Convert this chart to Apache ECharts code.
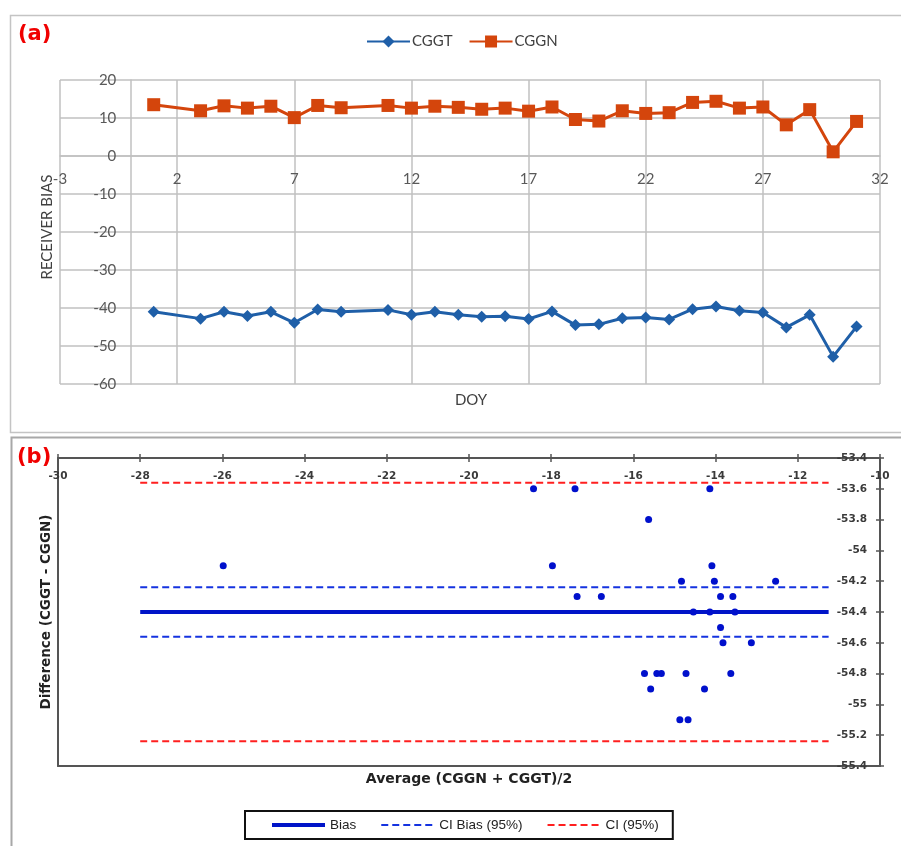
<!DOCTYPE html>
<html>
<head>
<meta charset="utf-8">
<script src="https://cdn.jsdelivr.net/npm/echarts@6/dist/echarts.min.js"></script>
<style>
  html, body { margin: 0; padding: 0; background: #ffffff; }
  #chart { width: 901px; height: 846px; }
</style>
</head>
<body>
<div id="chart"></div>
<script>
// ---- Panel (a): receiver bias per day of year ----
const doy = [1, 3, 4, 5, 6, 7, 8, 9, 11, 12, 13, 14, 15, 16, 17, 18, 19, 20, 21, 22, 23, 24, 25, 26, 27, 28, 29, 30, 31];
const cggt = [-41.0, -42.8, -41.0, -42.1, -41.0, -43.9, -40.4, -41.0, -40.5, -41.8, -41.0, -41.8, -42.3, -42.2, -42.9,
              -40.9, -44.5, -44.3, -42.7, -42.5, -43.0, -40.3, -39.6, -40.7, -41.2, -45.1, -41.8, -52.8, -44.9];
const cggn = [13.5, 11.9, 13.2, 12.6, 13.1, 10.1, 13.3, 12.7, 13.3, 12.6, 13.1, 12.8, 12.3, 12.6, 11.8,
              12.9, 9.6, 9.2, 11.9, 11.2, 11.4, 14.1, 14.4, 12.6, 12.9, 8.2, 12.2, 1.1, 9.1];

// ---- Panel (b): Bland-Altman agreement ----
const baAverage = [-25.98, -18.43, -17.42, -15.63, -14.14, -17.97, -14.09, -14.83, -14.03, -12.54,
                   -17.37, -16.78, -13.88, -13.58, -14.54, -14.14, -13.53, -13.88, -13.82, -13.13,
                   -15.73, -15.43, -15.32, -14.72, -13.63, -15.58, -14.27, -14.87, -14.67];
const baDifference = [-54.1, -53.6, -53.6, -53.8, -53.6, -54.1, -54.1, -54.2, -54.2, -54.2,
                      -54.3, -54.3, -54.3, -54.3, -54.4, -54.4, -54.4, -54.5, -54.6, -54.6,
                      -54.8, -54.8, -54.8, -54.8, -54.8, -54.9, -54.9, -55.1, -55.1];
const bias = -54.40;
const ciBias = [-54.24, -54.56];
const ciLimits = [-53.56, -55.24];
const refLineSpan = [-28, -11.25];

// panel (a) axis ranges
const doyRange = [-3, 32];
const biasRange = [-60, 20];

const pair = (xs, ys) => xs.map((x, i) => [x, ys[i]]);
const hLine = v => refLineSpan.map(x => [x, v]);

// panel (a) plot box; its axes cross at zero, so they are shifted in from the edges
const gridA = { left: 60, right: 21, top: 80, height: 304 };
const plotWidthA = 901 - gridA.left - gridA.right;
const xZeroShift = plotWidthA * (0 - doyRange[0]) / (doyRange[1] - doyRange[0]);
const yZeroShift = gridA.height * (0 - biasRange[0]) / (biasRange[1] - biasRange[0]);

const gridGray = '#c0c0c0';
const axisDark = '#555555';
const latoLabel = { fontFamily: 'Lato', fontSize: 15, color: '#595959' };
const boldTick = { fontFamily: 'DejaVu Sans', fontWeight: 'bold', fontSize: 10.5, color: '#3a3a3a' };
const lineOnlyIcon = { opacity: 0 };

const chart = echarts.init(document.getElementById('chart'), null, { renderer: 'canvas' });

chart.setOption({
  animation: false,
  backgroundColor: '#ffffff',
  title: [
    { text: '(a)', left: 18, top: 24, padding: 0,
      textStyle: { fontFamily: 'DejaVu Sans', fontWeight: 'bold', fontSize: 21, color: '#f00000' } },
    { text: '(b)', left: 17, top: 447, padding: 0,
      textStyle: { fontFamily: 'DejaVu Sans', fontWeight: 'bold', fontSize: 21, color: '#f00000' } }
  ],
  legend: [
    {
      data: ['CGGT', 'CGGN'],
      left: 366, top: 34, padding: 0,
      itemWidth: 43, itemHeight: 15, itemGap: 16,
      textStyle: { fontFamily: 'Lato', fontSize: 15, color: '#404040', padding: [0, 0, 0, -3] }
    },
    {
      data: [
        { name: 'Bias', lineStyle: { width: 4 }, itemStyle: lineOnlyIcon },
        { name: 'CI Bias (95%)', lineStyle: { width: 2 }, itemStyle: lineOnlyIcon },
        { name: 'CI (95%)', lineStyle: { width: 2 }, itemStyle: lineOnlyIcon }
      ],
      left: 245, top: 811,
      padding: [7, 14, 7, 25],
      borderColor: '#111111', borderWidth: 2,
      itemWidth: 53, itemHeight: 14, itemGap: 24,
      textStyle: { fontFamily: 'Liberation Sans', fontSize: 13.5, color: '#222222' }
    }
  ],
  grid: [
    gridA,
    { left: 58, right: 21, top: 458, height: 308 }
  ],
  xAxis: [
    { // DOY axis, drawn along the zero line of receiver bias
      gridIndex: 0, type: 'value', min: doyRange[0], max: doyRange[1], interval: 5,
      offset: -yZeroShift,
      axisLine: { show: true, onZero: false, lineStyle: { color: gridGray, width: 1.5 } },
      axisTick: { show: false },
      axisLabel: { ...latoLabel, margin: 16, showMinLabel: true, showMaxLabel: true },
      splitLine: { show: true, lineStyle: { color: gridGray, width: 1.5 } }
    },
    { // average axis with labels, along the top
      gridIndex: 1, type: 'value', position: 'top', min: -30, max: -10, interval: 2,
      axisLine: { show: true, onZero: false, lineStyle: { color: axisDark, width: 2 } },
      axisTick: { show: true, inside: true, length: 4, lineStyle: { color: axisDark, width: 1.5 } },
      axisLabel: { ...boldTick, inside: true, margin: 13, showMinLabel: true, showMaxLabel: true },
      splitLine: { show: false }
    },
    { // outward half of the crossing ticks on the top axis
      gridIndex: 1, type: 'value', position: 'top', min: -30, max: -10, interval: 2,
      axisLine: { show: false, onZero: false },
      axisTick: { show: true, length: 4, lineStyle: { color: axisDark, width: 1.5 } },
      axisLabel: { show: false }, splitLine: { show: false }
    },
    { // bottom frame edge
      gridIndex: 1, type: 'value', position: 'bottom', min: -30, max: -10,
      axisLine: { show: true, onZero: false, lineStyle: { color: axisDark, width: 2 } },
      axisTick: { show: false }, axisLabel: { show: false }, splitLine: { show: false }
    }
  ],
  yAxis: [
    { // receiver bias axis, drawn along DOY zero
      gridIndex: 0, type: 'value', min: biasRange[0], max: biasRange[1], interval: 10,
      offset: -xZeroShift,
      axisLine: { show: true, onZero: false, lineStyle: { color: gridGray, width: 1.5 } },
      axisTick: { show: false },
      axisLabel: { ...latoLabel, margin: 14, showMinLabel: true, showMaxLabel: true },
      splitLine: { show: true, lineStyle: { color: gridGray, width: 1.5 } }
    },
    { // difference axis with labels, on the right
      gridIndex: 1, type: 'value', position: 'right', min: -55.4, max: -53.4, interval: 0.2,
      axisLine: { show: true, onZero: false, lineStyle: { color: axisDark, width: 2 } },
      axisTick: { show: true, inside: true, length: 4, lineStyle: { color: axisDark, width: 1.5 } },
      axisLabel: { ...boldTick, inside: true, margin: 13, showMinLabel: true, showMaxLabel: true },
      splitLine: { show: false }
    },
    { // outward half of the crossing ticks on the right axis
      gridIndex: 1, type: 'value', position: 'right', min: -55.4, max: -53.4, interval: 0.2,
      axisLine: { show: false, onZero: false },
      axisTick: { show: true, length: 4, lineStyle: { color: axisDark, width: 1.5 } },
      axisLabel: { show: false }, splitLine: { show: false }
    },
    { // left frame edge
      gridIndex: 1, type: 'value', position: 'left', min: -55.4, max: -53.4,
      axisLine: { show: true, onZero: false, lineStyle: { color: axisDark, width: 2 } },
      axisTick: { show: false }, axisLabel: { show: false }, splitLine: { show: false }
    }
  ],
  graphic: [
    { type: 'rect', silent: true, z: -10,
      shape: { x: 10.5, y: 15.5, width: 892, height: 417 },
      style: { fill: null, stroke: '#c4c4c4', lineWidth: 1.5 } },
    { type: 'rect', silent: true, z: -10,
      shape: { x: 11.5, y: 437.5, width: 900, height: 420 },
      style: { fill: null, stroke: '#a8a8a8', lineWidth: 2 } },
    { type: 'text', silent: true, x: 47, y: 227, rotation: Math.PI / 2,
      style: { text: 'RECEIVER BIAS', align: 'center', verticalAlign: 'middle',
               font: '15px Lato', fill: '#404040' } },
    { type: 'text', silent: true, x: 471, y: 400,
      style: { text: 'DOY', align: 'center', verticalAlign: 'middle',
               font: '15px Lato', fill: '#404040' } },
    { type: 'text', silent: true, x: 46, y: 612, rotation: Math.PI / 2,
      style: { text: 'Difference (CGGT - CGGN)', align: 'center', verticalAlign: 'middle',
               font: 'bold 13.5px "DejaVu Sans"', fill: '#222222' } },
    { type: 'text', silent: true, x: 469, y: 779,
      style: { text: 'Average (CGGN + CGGT)/2', align: 'center', verticalAlign: 'middle',
               font: 'bold 14px "DejaVu Sans"', fill: '#222222' } }
  ],
  series: [
    {
      name: 'CGGT', type: 'line', xAxisIndex: 0, yAxisIndex: 0,
      data: pair(doy, cggt),
      symbol: 'diamond', symbolSize: 12,
      itemStyle: { color: '#1f5fa8' },
      lineStyle: { color: '#1f5fa8', width: 3 },
      z: 3
    },
    {
      name: 'CGGN', type: 'line', xAxisIndex: 0, yAxisIndex: 0,
      data: pair(doy, cggn),
      symbol: 'rect', symbolSize: 13,
      itemStyle: { color: '#d4450c' },
      lineStyle: { color: '#d4450c', width: 3 },
      z: 3
    },
    {
      name: 'CI (95%)', type: 'line', xAxisIndex: 1, yAxisIndex: 1,
      data: hLine(ciLimits[0]), symbol: 'none',
      itemStyle: { color: '#ff1f1f' },
      lineStyle: { color: '#ff1f1f', width: 2, type: [7, 4] }, z: 2
    },
    {
      name: 'CI (95%)', type: 'line', xAxisIndex: 1, yAxisIndex: 1,
      data: hLine(ciLimits[1]), symbol: 'none',
      itemStyle: { color: '#ff1f1f' },
      lineStyle: { color: '#ff1f1f', width: 2, type: [7, 4] }, z: 2
    },
    {
      name: 'CI Bias (95%)', type: 'line', xAxisIndex: 1, yAxisIndex: 1,
      data: hLine(ciBias[0]), symbol: 'none',
      itemStyle: { color: '#1533e0' },
      lineStyle: { color: '#1533e0', width: 2, type: [7, 4] }, z: 2
    },
    {
      name: 'CI Bias (95%)', type: 'line', xAxisIndex: 1, yAxisIndex: 1,
      data: hLine(ciBias[1]), symbol: 'none',
      itemStyle: { color: '#1533e0' },
      lineStyle: { color: '#1533e0', width: 2, type: [7, 4] }, z: 2
    },
    {
      name: 'Bias', type: 'line', xAxisIndex: 1, yAxisIndex: 1,
      data: hLine(bias), symbol: 'none',
      itemStyle: { color: '#0014c8' },
      lineStyle: { color: '#0014c8', width: 4 }, z: 2
    },
    {
      name: 'Difference', type: 'scatter', xAxisIndex: 1, yAxisIndex: 1,
      data: pair(baAverage, baDifference),
      symbol: 'circle', symbolSize: 7,
      itemStyle: { color: '#0010cc', opacity: 1 }, z: 4
    }
  ]
});
</script>
</body>
</html>
